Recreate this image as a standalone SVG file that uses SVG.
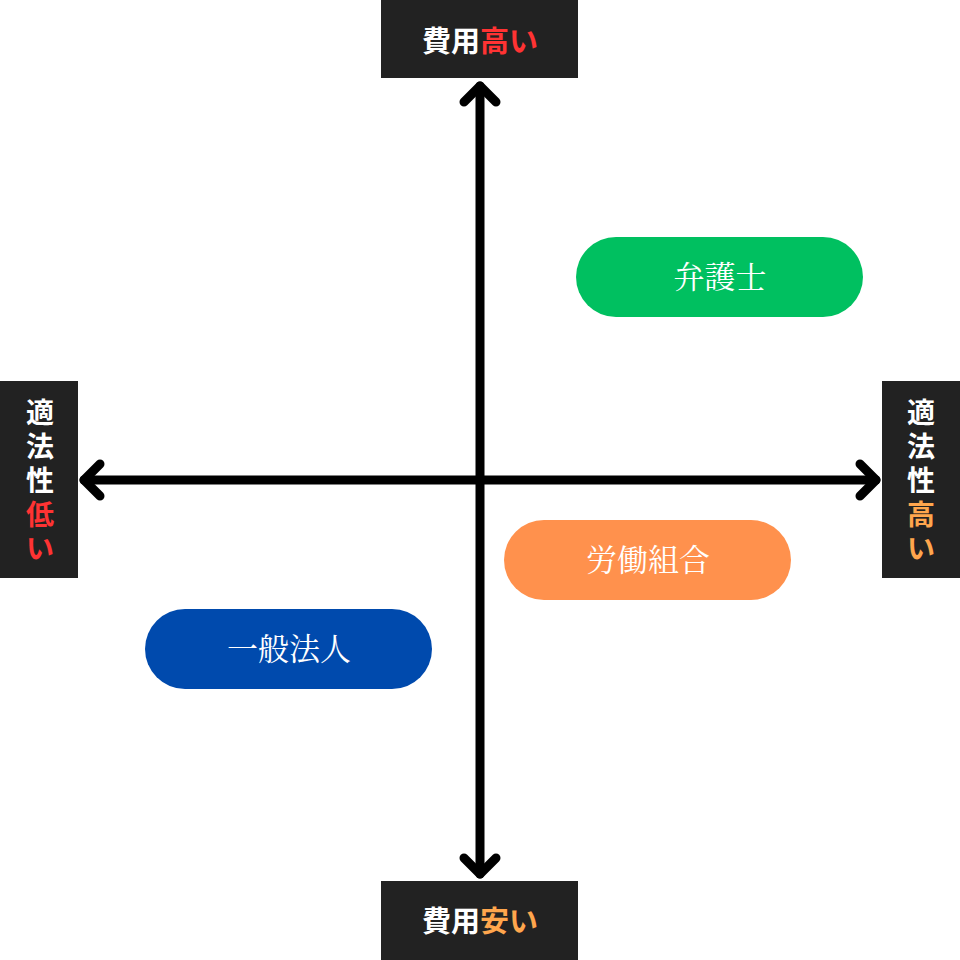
<svg xmlns="http://www.w3.org/2000/svg" width="960" height="960" viewBox="0 0 960 960">
<style>
.box{fill:#222}
.lbl{font-family:"Noto Sans CJK JP","Noto Sans",sans-serif;font-weight:700;font-size:29px;fill:#fff;text-anchor:middle}
.v{font-size:28px}
.red{fill:#ff3333}.org{fill:#ffa64d}
.pill text{font-family:"Noto Serif CJK JP","Liberation Serif","Noto Sans CJK JP",serif;font-size:31px;fill:#fff;text-anchor:middle}
.ax{stroke:#000;stroke-width:9;fill:none;stroke-linecap:round;stroke-linejoin:round}
</style>
<rect width="960" height="960" fill="#fff"/>
<g id="connectors">
<line class="ax" x1="480" y1="86" x2="480" y2="874"/>
<line class="ax" x1="84" y1="480" x2="876" y2="480"/>
<polyline class="ax" points="464,102 480,86 496,102"/>
<polyline class="ax" points="464,858 480,874 496,858"/>
<polyline class="ax" points="100,464 84,480 100,496"/>
<polyline class="ax" points="860,464 876,480 860,496"/>
</g>
<g id="top"><rect class="box" x="381" y="0" width="197" height="78"/><text class="lbl" x="480" y="52">費用<tspan class="red">高い</tspan></text></g>
<g id="bottom"><rect class="box" x="381" y="881" width="197" height="79"/><text class="lbl" x="480" y="932">費用<tspan class="org">安い</tspan></text></g>
<g id="left"><rect class="box" x="0" y="381" width="78" height="197"/>
<text class="lbl v" x="40" y="423">適</text><text class="lbl v" x="40" y="457">法</text><text class="lbl v" x="40" y="491">性</text><text class="lbl v red" x="40" y="525">低</text><text class="lbl v red" x="40" y="559">い</text></g>
<g id="right"><rect class="box" x="882" y="381" width="78" height="197"/>
<text class="lbl v" x="921" y="423">適</text><text class="lbl v" x="921" y="457">法</text><text class="lbl v" x="921" y="491">性</text><text class="lbl v org" x="921" y="525">高</text><text class="lbl v org" x="921" y="559">い</text></g>
<g id="lawyer" class="pill"><rect x="576" y="237" width="287" height="80" rx="40" fill="#00c060"/><text x="720" y="288">弁護士</text></g>
<g id="union" class="pill"><rect x="504" y="520" width="287" height="80" rx="40" fill="#ff914d"/><text x="648" y="571">労働組合</text></g>
<g id="corp" class="pill"><rect x="145" y="609" width="287" height="80" rx="40" fill="#004aad"/><text x="289" y="660">一般法人</text></g>
</svg>
